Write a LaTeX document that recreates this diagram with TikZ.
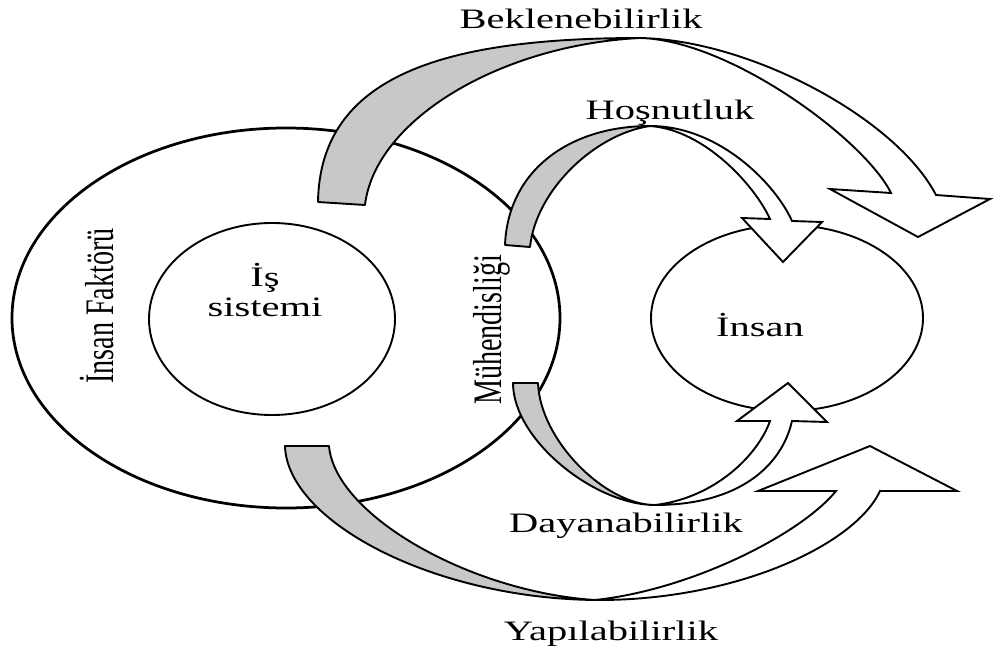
\documentclass[tikz,border=0pt]{standalone}
\usepackage{fontspec}
\setmainfont{Liberation Serif}
\definecolor{bandgray}{RGB}{200,200,200}

\begin{document}
\begin{tikzpicture}[
        x=0.2mm, y=-0.2mm,
        every node/.style={font=\fontsize{16}{17}\selectfont, inner sep=0pt},
        lbl/.style={xscale=1.44},
        vlbl/.style={rotate=90, yscale=1.44},
        ring/.style={draw, line width=0.55mm},
        thinring/.style={draw, line width=0.38mm},
        back/.style={draw, fill=bandgray, line width=0.38mm, line join=round},
        front/.style={draw, fill=white, line width=0.38mm, line join=miter}
    ]
	\useasboundingbox (0,0) rectangle (1000,659);
	% the three rings
	\draw[ring] (286,318) ellipse [x radius=274, y radius=190];
	\draw[thinring] (272,319) ellipse [x radius=123, y radius=96];
	\draw[thinring] (787,318) ellipse [x radius=136, y radius=93];
	% Beklenebilirlik
	\draw[back] (318,202) .. controls (320,75) and (445,38) .. (640,38)
		.. controls (500,45) and (375,120) .. (365,205) -- cycle;
	\draw[front] (640,38) .. controls (750,40) and (896,118) .. (936,195)
		-- (990,199) -- (918,237) -- (830,189) -- (891,193)
		.. controls (865,140) and (730,40) .. (640,38) -- cycle;
	% Hosnutluk
	\draw[back] (505,245) .. controls (508,170) and (570,126) .. (650,126)
		.. controls (595,134) and (536,190) .. (530,247) -- cycle;
	\draw[front] (650,126) .. controls (720,126) and (776,185) .. (792,221)
		-- (822,222) -- (783,262) -- (742,218) -- (770,219)
		.. controls (755,186) and (705,130) .. (650,126) -- cycle;
	% Dayanabilirlik
	\draw[back] (513,383) .. controls (513,440) and (595,505) .. (655,505)
		.. controls (605,505) and (540,440) .. (538,383) -- cycle;
	\draw[front] (655,505) .. controls (740,505) and (782,465) .. (792,421)
		-- (827,422) -- (788,383) -- (737,421) -- (770,421)
		.. controls (758,455) and (715,498) .. (655,505) -- cycle;
	% Yapilabilirlik
	\draw[back] (285,446) .. controls (287,520) and (430,598) .. (595,600)
		.. controls (470,592) and (335,515) .. (329,446) -- cycle;
	\draw[front] (595,600) .. controls (735,601) and (855,545) .. (880,491)
		-- (957,491) -- (870,446) -- (758,491) -- (836,491)
		.. controls (800,535) and (690,590) .. (595,600) -- cycle;
	% labels
	\node[lbl] (bek) at (581,19) {Beklenebilirlik};
	\node[lbl] (hos) at (670,113) {Hoşnutluk};
	\node[lbl] (day) at (626,526) {Dayanabilirlik};
	\node[lbl] (yap) at (611,634) {Yapılabilirlik};
	\node[lbl] (ins) at (760,325) {İnsan};
	\node[lbl, align=center] (isis) at (265,290) {İş\\sistemi};
	\node[vlbl] (fak) at (97,306) {İnsan Faktörü};
	\node[vlbl] (muh) at (492,330) {Mühendisliği};
\end{tikzpicture}
\end{document}
